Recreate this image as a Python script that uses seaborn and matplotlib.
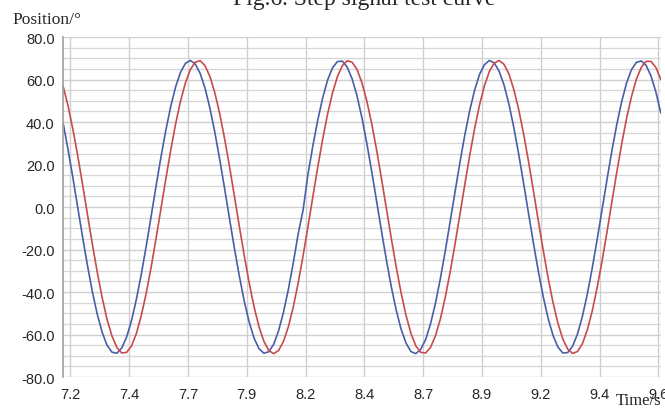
import numpy as np
import pandas as pd
import matplotlib
matplotlib.use("Agg")
import matplotlib.pyplot as plt
from matplotlib.ticker import MultipleLocator
import seaborn as sns

# sample times (s), 0.02 s apart
time_s = np.round(7.17 + 0.02 * np.arange(123), 2)

# position (deg)
blue_pos = [
    39.9, 27.5, 14.1, 0.0, -14.1, -27.5, -39.9, -50.5, -59.0, -65.1,
    -68.3, -68.8, -66.3, -61.1, -53.3, -43.2, -31.4, -18.2, -4.2, 9.9,
    23.6, 36.3, 47.5, 56.7, 63.5, 67.7, 69.0, 67.3, 62.9, 55.9,
    46.4, 35.1, 22.2, 8.5, -5.7, -19.6, -32.6, -44.4, -54.2, -61.7,
    -66.7, -68.8, -68.1, -64.6, -58.2, -49.5, -38.7, -26.2, -12.6, -1.4,
    15.5, 28.9, 41.0, 51.4, 59.8, 65.5, 68.5, 68.7, 65.9, 60.4,
    52.4, 42.1, 30.1, 16.8, 2.8, -11.3, -24.9, -37.5, -48.5, -57.5,
    -64.0, -68.0, -69.0, -67.0, -62.4, -55.0, -45.4, -33.8, -20.9, -7.0,
    7.1, 20.9, 33.9, 45.4, 55.0, 62.4, 67.0, 69.0, 67.9, 64.0,
    57.5, 48.5, 37.5, 24.9, 11.2, -2.9, -16.9, -30.1, -42.1, -52.4,
    -60.4, -65.9, -68.7, -68.5, -65.5, -59.7, -51.4, -41.0, -28.8, -15.4,
    -1.4, 12.7, 26.3, 38.7, 49.5, 58.3, 64.6, 68.1, 68.8, 66.7,
    61.7, 54.1, 44.3,
]

# position (deg)
red_pos = [
    57.1, 48.0, 36.9, 24.3, 10.6, -3.5, -17.5, -30.7, -42.7, -52.9,
    -60.7, -66.1, -68.7, -68.4, -65.3, -59.4, -50.9, -40.4, -28.2, -14.7,
    -0.7, 13.4, 26.9, 39.3, 50.0, 58.6, 64.8, 68.2, 68.9, 66.5,
    61.4, 53.7, 43.8, 32.0, 18.9, 4.9, -9.2, -22.9, -35.7, -47.0,
    -56.3, -63.2, -67.5, -69.0, -67.5, -63.2, -56.3, -47.0, -35.7, -22.9,
    -9.2, 5.0, 18.9, 32.0, 43.8, 53.7, 61.4, 66.5, 68.9, 68.2,
    64.8, 58.6, 50.0, 39.3, 26.9, 13.4, -0.7, -14.7, -28.2, -40.4,
    -50.9, -59.4, -65.3, -68.4, -68.7, -66.1, -60.7, -52.8, -42.6, -30.7,
    -17.5, -3.5, 10.6, 24.3, 36.9, 48.0, 57.1, 63.8, 67.8, 69.0,
    67.2, 62.7, 55.4, 45.9, 34.5, 21.5, 7.7, -6.4, -20.3, -33.3,
    -44.9, -54.6, -62.1, -66.9, -68.9, -68.0, -64.3, -57.8, -49.0, -38.0,
    -25.5, -12.0, 2.2, 16.2, 29.5, 41.6, 51.9, 60.1, 65.7, 68.6,
    68.6, 65.7, 60.1,
]

xtick_pos = [7.2, 7.44, 7.68, 7.92, 8.16, 8.4, 8.64, 8.88, 9.12, 9.36, 9.6]
xtick_labels = ["7.2", "7.4", "7.7", "7.9", "8.2", "8.4", "8.7", "8.9", "9.2", "9.4", "9.6"]
ytick_pos = [80, 60, 40, 20, 0, -20, -40, -60, -80]

df = pd.DataFrame({
    "Time": np.concatenate([time_s, time_s]),
    "Position": blue_pos + red_pos,
    "Signal": ["blue"] * len(blue_pos) + ["red"] * len(red_pos),
})

sns.set_style("white")
tick_font = ["Liberation Sans Narrow", "Liberation Sans", "DejaVu Sans"]
serif_font = ["Liberation Serif", "DejaVu Serif"]

fig = plt.figure(figsize=(6.65, 4.10), dpi=100)
ax = fig.add_axes([0.0947, 0.078, 0.899, 0.829])

sns.lineplot(data=df, x="Time", y="Position", hue="Signal",
             palette={"blue": "#4a5ea8", "red": "#c94a4c"},
             linewidth=1.2, legend=False, ax=ax)

ax.set_xlim(7.17, 9.61)
ax.set_ylim(-80, 80)
ax.set_xticks(xtick_pos)
ax.set_xticklabels(xtick_labels, family=tick_font, fontsize=10.5)
ax.set_yticks(ytick_pos)
ax.set_yticklabels([f"{v:.1f}" for v in ytick_pos], family=tick_font, fontsize=10.5)
ax.yaxis.set_minor_locator(MultipleLocator(5))

ax.grid(True, which="major", axis="both", color="#cfcfcf", linewidth=1.0)
ax.grid(True, which="minor", axis="y", color="#d6d6d6", linewidth=0.9)
ax.set_axisbelow(True)

for side in ["top", "right", "bottom"]:
    ax.spines[side].set_visible(False)
ax.spines["left"].set_color("#a0a0a0")
ax.spines["left"].set_linewidth(1.2)

ax.tick_params(axis="both", which="major", direction="out", length=5,
               width=1, color="#333333", pad=1)
ax.tick_params(axis="x", which="major", pad=2)
ax.tick_params(axis="y", which="minor", length=0)
ax.set_xlabel("")
ax.set_ylabel("")

fig.text(0.018, 0.950, "Position/°", family=serif_font, fontsize=12.5,
         ha="left", va="center")
fig.text(0.995, 0.002, "Time/s", family=serif_font, fontsize=12,
         ha="right", va="bottom")
# title is cut by the top edge in the source image
fig.text(0.548, 1.0, "Fig.6. Step signal test curve", family=serif_font,
         fontsize=17, ha="center", va="center")

fig.savefig("out.png", dpi=100, facecolor="white")
